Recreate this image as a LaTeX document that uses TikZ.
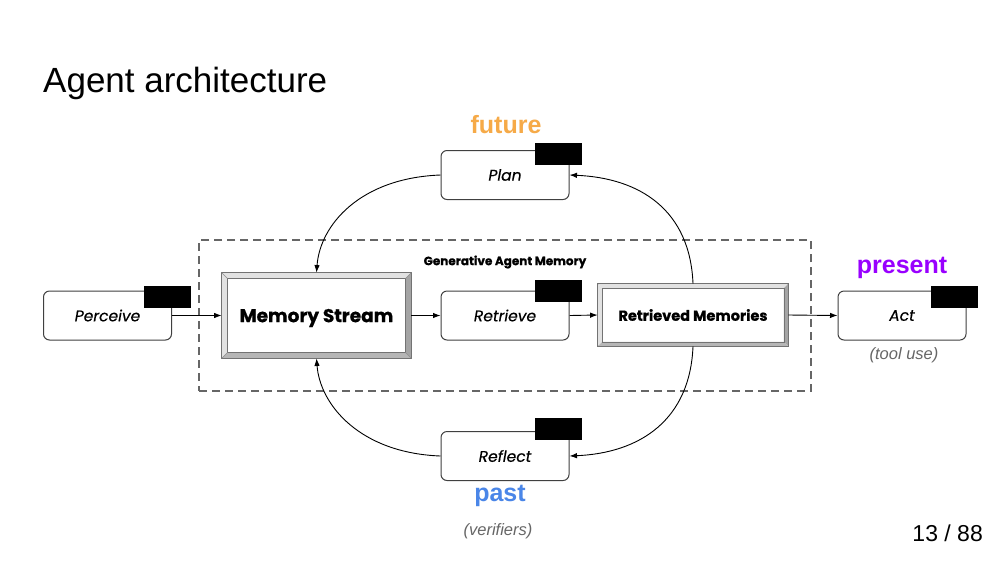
\documentclass[tikz,border=0pt]{standalone}
\usepackage{fontspec}
\setmainfont{Liberation Sans}
\newfontfamily\poppins{Poppins}[ItalicFeatures={FakeBold=0.4}]
\newfontfamily\poppinsheavy{Poppins}[BoldFeatures={FakeBold=0.8}]
\usetikzlibrary{arrows.meta,calc}
\definecolor{futurec}{HTML}{F6AA48}
\definecolor{presentc}{HTML}{9900FF}
\definecolor{pastc}{HTML}{4A86E8}
\definecolor{graytxt}{HTML}{666666}
\definecolor{bevlight}{HTML}{E2E2E2}
\definecolor{bevdark}{HTML}{A4A4A4}
\tikzset{
  proc/.style={draw=black!75, line width=1pt, rounded corners=6pt, fill=white,
    minimum width=128pt, minimum height=49pt, inner sep=0pt,
    font=\poppins\itshape\fontsize{15.5}{15.5}\selectfont},
  blk/.style={fill=black, draw=none, minimum width=47pt, minimum height=22pt, inner sep=0pt},
  bev/.style={draw=black!55, line width=0.8pt, fill=white, inner sep=0pt},
  arr/.style={-{Latex[length=7.5pt,width=5.5pt]}, line width=0.9pt, black},
  tlabel/.style={font=\bfseries\fontsize{25}{25}\selectfont},
  note/.style={text=graytxt, font=\itshape\fontsize{16.5}{16.5}\selectfont},
}
\begin{document}
\begin{tikzpicture}[x=1pt,y=-1pt]
\useasboundingbox[fill=white] (0,0) rectangle (1000,563);

% title
\node[anchor=base west, inner sep=0pt, font=\fontsize{35}{35}\selectfont] (title) at (43,92) {Agent architecture};

% memory group
\node[draw=black!60, dash pattern=on 8pt off 5pt, line width=1.4pt, minimum width=612pt, minimum height=151pt, inner sep=0pt] (group) at (505,315.5) {};
\node[inner sep=0pt, font=\poppinsheavy\bfseries\fontsize{12}{12}\selectfont] (glabel) at (505,262) {Generative Agent Memory};

% processes
\node[proc] (perceive) at (107.5,315.5) {Perceive};
\node[proc] (plan) at (505,175) {Plan};
\node[proc] (retrieve) at (505,315.5) {Retrieve};
\node[proc] (reflect) at (505,456) {Reflect};
\node[proc] (act) at (902,315.5) {Act};

% black marks
\node[blk] (bperceive) at (167.5,297) {};
\node[blk] (bplan) at (558.5,153.5) {};
\node[blk] (bretrieve) at (558.5,291) {};
\node[blk] (breflect) at (558.5,429) {};
\node[blk] (bact) at (954.5,297) {};

% memory stream (beveled)
\node[bev, minimum width=189pt, minimum height=85pt, font=\poppinsheavy\bfseries\fontsize{18.5}{18.5}\selectfont] (ms) at (316.5,315.5) {\raisebox{-2.5pt}[\height][\depth]{Memory Stream}};
\fill[bevlight] (ms.north west) -- (ms.north east) -- ($(ms.north east)+(-6,6)$) -- ($(ms.north west)+(6,6)$) -- cycle;
\fill[bevlight] (ms.north west) -- ($(ms.north west)+(6,6)$) -- ($(ms.south west)+(6,-6)$) -- (ms.south west) -- cycle;
\fill[bevdark] (ms.north east) -- (ms.south east) -- ($(ms.south east)+(-6,-6)$) -- ($(ms.north east)+(-6,6)$) -- cycle;
\fill[bevdark!80] (ms.south west) -- (ms.south east) -- ($(ms.south east)+(-6,-6)$) -- ($(ms.south west)+(6,-6)$) -- cycle;
\draw[black!55, line width=0.8pt] (ms.north west) rectangle (ms.south east);
\draw[black!55, line width=0.8pt] ($(ms.north west)+(6,6)$) rectangle ($(ms.south east)+(-6,-6)$);
\draw[black!45, line width=0.5pt] (ms.north west) -- ($(ms.north west)+(6,6)$) (ms.north east) -- ($(ms.north east)+(-6,6)$) (ms.south west) -- ($(ms.south west)+(6,-6)$) (ms.south east) -- ($(ms.south east)+(-6,-6)$);

% retrieved memories (beveled)
\node[bev, minimum width=190pt, minimum height=62pt, font=\poppinsheavy\bfseries\fontsize{14.5}{14.5}\selectfont] (rm) at (693,315) {Retrieved Memories};
\fill[bevlight] (rm.north west) -- (rm.north east) -- ($(rm.north east)+(-4.5,4.5)$) -- ($(rm.north west)+(4.5,4.5)$) -- cycle;
\fill[bevlight] (rm.north west) -- ($(rm.north west)+(4.5,4.5)$) -- ($(rm.south west)+(4.5,-4.5)$) -- (rm.south west) -- cycle;
\fill[bevdark] (rm.north east) -- (rm.south east) -- ($(rm.south east)+(-4.5,-4.5)$) -- ($(rm.north east)+(-4.5,4.5)$) -- cycle;
\fill[bevdark!80] (rm.south west) -- (rm.south east) -- ($(rm.south east)+(-4.5,-4.5)$) -- ($(rm.south west)+(4.5,-4.5)$) -- cycle;
\draw[black!55, line width=0.8pt] (rm.north west) rectangle (rm.south east);
\draw[black!55, line width=0.8pt] ($(rm.north west)+(4.5,4.5)$) rectangle ($(rm.south east)+(-4.5,-4.5)$);

% straight arrows
\draw[arr] (perceive.east) -- (ms.west);
\draw[arr] (ms.east) -- (retrieve.west);
\draw[arr] (retrieve.east) -- (rm.west);
\draw[arr] (rm.east) -- (act.west);

% curved arrows
\draw[arr] (plan.west) .. controls (360,178) and (320,225) .. (ms.north);
\draw[arr] (rm.north) .. controls (690,210) and (640,178) .. (plan.east);
\draw[arr] (reflect.west) .. controls (360,453) and (320,405) .. (ms.south);
\draw[arr] (rm.south) .. controls (690,420) and (640,453) .. (reflect.east);

% labels
\node[tlabel, text=futurec, inner sep=0pt] (future) at (506,125) {future};
\node[tlabel, text=presentc, inner sep=0pt] (present) at (902,268) {present};
\node[tlabel, text=pastc, inner sep=0pt] (past) at (500,496) {past};
\node[note, inner sep=0pt] (tooluse) at (904,355) {(tool use)};
\node[note, inner sep=0pt] (verifiers) at (498,531) {(verifiers)};
\node[inner sep=0pt, anchor=base east, font=\fontsize{23}{23}\selectfont] (page) at (983,541) {13 / 88};
\end{tikzpicture}
\end{document}
